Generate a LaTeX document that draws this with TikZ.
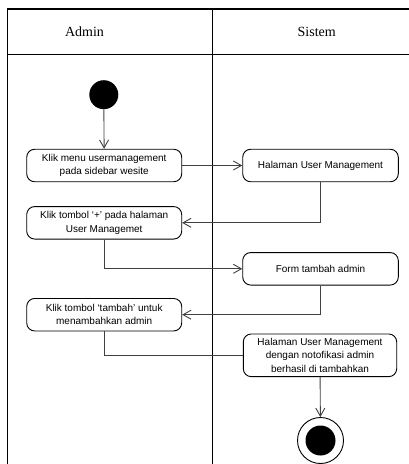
\documentclass[tikz,border=0pt]{standalone}
\usepackage{fontspec}
\setmainfont{Liberation Sans}
\newfontfamily\headfont{Liberation Serif}
\usetikzlibrary{arrows.meta}

\tikzset{
  act/.style={draw, rounded corners=8pt, minimum height=32.5pt, align=center,
    font=\fontsize{10}{13.3}\selectfont, line width=0.9pt},
  flow/.style={draw=black!75, line width=0.9pt},
}

\begin{document}
\begin{tikzpicture}[x=1pt, y=-1pt, >={Straight Barb[length=8pt,width=9pt]}]
    \useasboundingbox (0,0) rectangle (409,464);

    % swimlanes
    \draw[line width=1.1pt] (409,9) -- (7.5,9) -- (7.5,464);
    \draw[line width=1.1pt] (7.5,54.3) -- (409,54.3);
    \draw[line width=1.1pt] (212.3,9) -- (212.3,464);
    \node[font=\headfont\fontsize{14}{16}\selectfont] (admin) at (84.5,31.7) {Admin};
    \node[font=\headfont\fontsize{14}{16}\selectfont] (sistem) at (316.7,31.7) {Sistem};

    % activities
    \node[circle, fill=black, minimum size=29pt, inner sep=0pt] (start) at (103.8,94.7) {};
    \node[act, minimum width=155pt] (a1) at (104.2,165.5) {Klik menu usermanagement\\pada sidebar wesite};
    \node[act, minimum width=155.6pt] (s1) at (320.5,165.5) {Halaman User Management};
    \node[act, minimum width=155pt] (a2) at (104.2,222.8) {Klik tombol ‘+’ pada halaman\\User Managemet};
    \node[act, minimum width=155.6pt] (s2) at (320.5,268.8) {Form tambah admin};
    \node[act, minimum width=155pt] (a3) at (104.2,314.7) {Klik tombol ‘tambah’ untuk\\menambahkan admin};
    \node[act, minimum width=153.4pt, minimum height=42.7pt] (s3) at (320,355.3)
      {Halaman User Management\\dengan notofikasi admin\\berhasil di tambahkan};
    \node[circle, draw, line width=0.9pt, minimum size=46pt, inner sep=0pt] (end) at (320.5,440.5) {};
    \node[circle, fill=black, minimum size=30pt, inner sep=0pt] (endin) at (end.center) {};

    % flows
    \draw[flow, ->] (start) -- (a1);
    \draw[flow, ->] (a1) -- (s1);
    \draw[flow, ->] (s1.south) |- (a2.east);
    \draw[flow, ->] (a2.south) |- (s2.west);
    \draw[flow, ->] (s2.south) |- (a3.east);
    \draw[flow] (a3.south) |- (s3.west);
    \draw[flow, ->] (s3) -- (end);
\end{tikzpicture}
\end{document}
